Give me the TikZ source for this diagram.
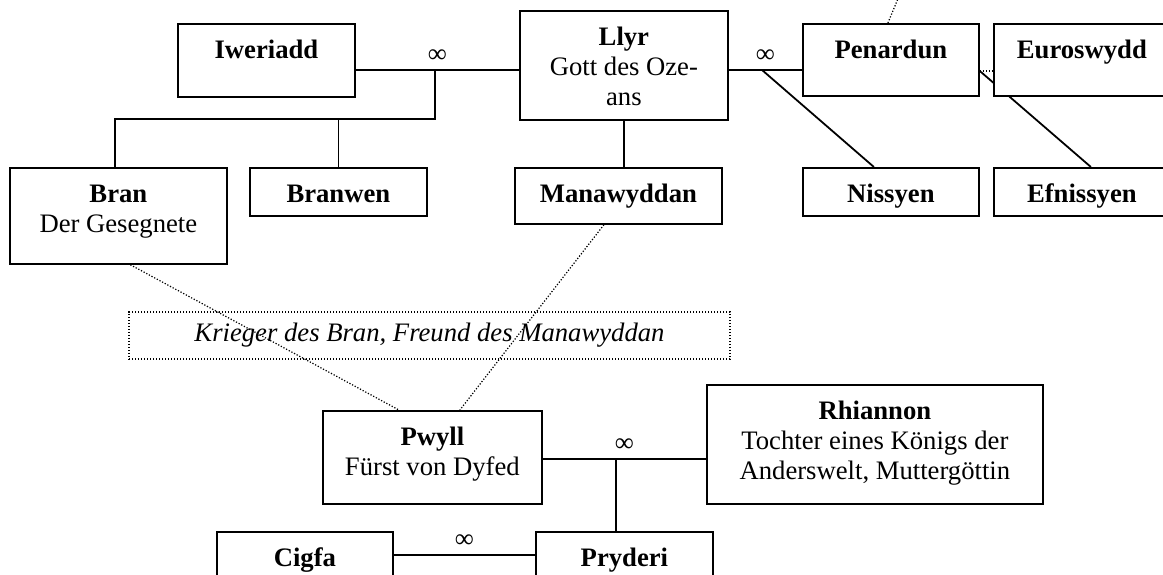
\documentclass[tikz,border=0pt]{standalone}
\usepackage{fontspec}
\setmainfont{Liberation Serif}
\usetikzlibrary{positioning, calc, backgrounds}

\begin{document}
\begin{tikzpicture}[
  x=0.45pt, y=-0.45pt,
  font=\fontsize{12}{13.5}\selectfont,
  person/.style={draw, thick, fill=white, anchor=north west, inner sep=0pt,
    align=flush center, text height=15.75pt},
  pbox/.style 2 args={text width=#1, text depth=#2},
  note/.style={draw, line width=0.55pt, dash pattern=on 0.55pt off 0.8pt, inner sep=0pt,
    font=\fontsize{12}{13.5}\selectfont\itshape},
  link/.style={thick},
  hint/.style={line width=0.55pt, dash pattern=on 0.55pt off 0.8pt},
  inf/.style={midway, above=3pt, inner sep=0pt}
]
\useasboundingbox (0,0) rectangle (1163,575);
\clip (0,0) rectangle (1163,575);

% Eltern
\node[person, pbox={79.65pt}{17.1pt}] (Iw) at (177,23) {\textbf{Iweriadd}};
\node[person, pbox={93.6pt}{33.3pt}] (Ll) at (519,10) {\textbf{Llyr}\\Gott des Oze-\\ans};
\node[person, pbox={79.2pt}{16.65pt}] (Pen) at (802,23) {\textbf{Penardun}};
\node[person, pbox={79.2pt}{16.65pt}] (Eur) at (993,23) {\textbf{Euroswydd}};

% Kinder
\node[person, pbox={97.65pt}{27.45pt}] (Bran) at (9,167) {\textbf{Bran}\\Der Gesegnete};
\node[person, pbox={79.65pt}{5.85pt}] (Branwen) at (249,167) {\textbf{Branwen}};
\node[person, pbox={93.15pt}{9.45pt}] (Man) at (514,167) {\textbf{Manawyddan}};
\node[person, pbox={79.2pt}{5.85pt}] (Niss) at (802,167) {\textbf{Nissyen}};
\node[person, pbox={79.2pt}{5.85pt}] (Efn) at (993,167) {\textbf{Efnissyen}};

\node[note, minimum width=270.45pt, minimum height=21.15pt] (war) at (429.5,335.5) {Krieger des Bran, Freund des Manawyddan};

% Dyfed
\node[person, pbox={98.55pt}{26.1pt}] (Pw) at (322,410) {\textbf{Pwyll}\\Fürst von Dyfed};
\node[person, pbox={151.2pt}{37.8pt}] (Rh) at (706,384) {\textbf{Rhiannon}\\Tochter eines Königs der\\Anderswelt, Muttergöttin};
\node[person, pbox={79.2pt}{17.1pt}] (Cig) at (216,531) {\textbf{Cigfa}};
\node[person, pbox={79.65pt}{17.1pt}] (Pry) at (535,531) {\textbf{Pryderi}};

\begin{scope}[on background layer]
\coordinate (m1) at (435,70);
\coordinate (k1) at (435,119);
\draw[link] (Iw.east |- m1) -- node[inf]{∞} (Ll.west |- m1);
\draw[link] (m1) -- (k1) -| ($(Bran.north)+(-3.5,0)$);
\draw[link] (Branwen.north) -- (Branwen.north |- k1);
\draw[link] (Ll.south) -- (Ll.south |- Man.north);

\coordinate (m2) at (762,70);
\draw[link] (Ll.east |- m2) -- node[inf]{∞} (Pen.west |- m2);
\draw[link] (m2) -- ($(Niss.north)+(-17,0)$);

\path (Pen.north east) ++(0,48) coordinate (m3);
\draw[hint] (m3) -- (m3 -| Eur.west);
\draw[link] (m3) -- ($(Efn.north)+(9,0)$);
\coordinate (up) at (914,-40);
\draw[hint] ($(Pen.north)+(-3,0)$) -- (up);

\draw[hint] ($(Bran.south)+(12,0)$) -- ($(Pw.north)+(-33.5,0)$);
\draw[hint] ($(Man.south)+(-14.5,0)$) -- ($(Pw.north)+(27.5,0)$);

\coordinate (m4) at (616,459);
\draw[link] (Pw.east |- m4) -- node[inf]{∞} (Rh.west |- m4);
\draw[link] (m4) -- (m4 |- Pry.north);
\coordinate (m5) at (463,555);
\draw[link] (Cig.east |- m5) -- node[inf]{∞} (Pry.west |- m5);
\end{scope}
\end{tikzpicture}
\end{document}
